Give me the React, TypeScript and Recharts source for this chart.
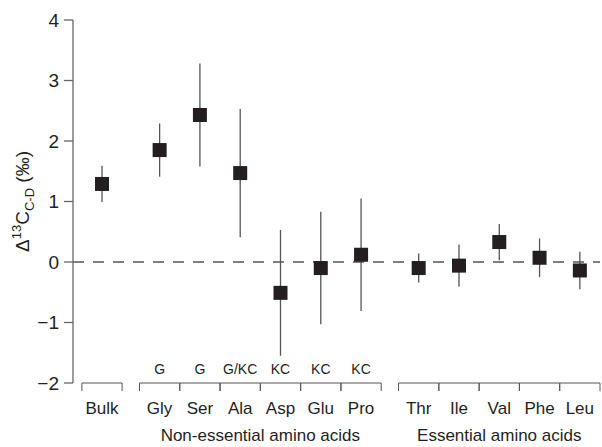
import { ScatterChart, Scatter, XAxis, YAxis, ErrorBar, ReferenceLine } from "recharts";

// Data
const categories = ["Bulk", "Gly", "Ser", "Ala", "Asp", "Glu", "Pro", "Thr", "Ile", "Val", "Phe", "Leu"];
const groupNames = ["", "Non-essential amino acids", "Essential amino acids"];
const groupSizes = [1, 6, 5];
const means = [1.29, 1.85, 2.43, 1.47, -0.51, -0.1, 0.12, -0.1, -0.06, 0.33, 0.07, -0.14];
const errors = [0.3, 0.44, 0.85, 1.06, 1.04, 0.93, 0.93, 0.24, 0.35, 0.3, 0.32, 0.31];
const sourceTags = ["", "G", "G", "G/KC", "KC", "KC", "KC", "", "", "", "", ""];
const yTicks = [-2, -1, 0, 1, 2, 3, 4];

// layout
const W = 602;
const H = 447;
const GAP = 0.43; // space between groups, in category widths
const X_DOMAIN: [number, number] = [-0.72, 12.36];
const PLOT_W = 527;
const BAND = PLOT_W / (X_DOMAIN[1] - X_DOMAIN[0]);
const FONT = "'Liberation Sans', Arial, Helvetica, sans-serif";
const INK = "#231f20";
const GREY = "#555";

// x position of each category, with a gap between groups
const positions: number[] = [];
const groupOfCat: number[] = [];
{
  let idx = 0;
  groupSizes.forEach((size, g) => {
    for (let i = 0; i < size; i++) {
      positions.push(idx + g * GAP);
      groupOfCat.push(g);
      idx++;
    }
  });
}
const groupCenters = groupSizes.map((_, g) => {
  const xs = positions.filter((_, i) => groupOfCat[i] === g);
  return (xs[0] + xs[xs.length - 1]) / 2;
});
const labelledGroups = groupNames.map((n, g) => ({ n, g })).filter((d) => d.n);

const rows = categories.map((name, i) => ({
  name,
  x: positions[i],
  y: means[i],
  err: errors[i],
}));

function CategoryTick(props: any) {
  const { x, y, index } = props;
  const h = BAND / 2;
  return (
    <g>
      <line x1={x - h} x2={x + h} y1={y} y2={y} stroke={GREY} strokeWidth={1} />
      <line x1={x - h} x2={x - h} y1={y} y2={y + 8} stroke={GREY} strokeWidth={1} />
      <line x1={x + h} x2={x + h} y1={y} y2={y + 8} stroke={GREY} strokeWidth={1} />
      {sourceTags[index] ? (
        <text x={x} y={y - 9} textAnchor="middle" fontSize={14} fontFamily={FONT} fill={INK}>
          {sourceTags[index]}
        </text>
      ) : null}
      <text x={x} y={y + 31} textAnchor="middle" fontSize={17} fontFamily={FONT} fill={INK}>
        {categories[index]}
      </text>
    </g>
  );
}

function GroupTick(props: any) {
  const { x, y, index } = props;
  return (
    <text x={x} y={y + 14} textAnchor="middle" fontSize={17} fontFamily={FONT} fill={INK}>
      {labelledGroups[index]?.n}
    </text>
  );
}

function YLabel(props: any) {
  const vb = props.viewBox || { x: 0, y: 20, width: 73, height: 363 };
  const cx = 29;
  const cy = vb.y + vb.height / 2;
  return (
    <text
      x={cx}
      y={cy}
      transform={`rotate(-90, ${cx}, ${cy})`}
      textAnchor="middle"
      fontSize={19}
      fontFamily={FONT}
      fill={INK}
    >
      Δ<tspan dy={-8} fontSize={13}>13</tspan>
      <tspan dy={8} fontSize={19}>C</tspan>
      <tspan dy={5} fontSize={13}>C-D</tspan>
      <tspan dy={-5} fontSize={19}> (‰)</tspan>
    </text>
  );
}

const Square = (props: any) => (
  <rect x={props.cx - 7} y={props.cy - 7} width={14} height={14} fill={INK} />
);

export default function App() {
  return (
    <div style={{ position: "absolute", left: 0, top: 0, background: "#fff" }}>
      <ScatterChart width={W} height={H} margin={{ top: 20, right: 2, bottom: 0, left: 0 }}>
        <XAxis
          dataKey="x"
          type="number"
          domain={X_DOMAIN}
          allowDataOverflow
          ticks={positions}
          interval={0}
          axisLine={false}
          tickLine={false}
          tickSize={0}
          tickMargin={0}
          height={44}
          tick={<CategoryTick />}
        />
        <XAxis
          xAxisId="group"
          dataKey="x"
          type="number"
          domain={X_DOMAIN}
          allowDataOverflow
          ticks={labelledGroups.map((d) => groupCenters[d.g])}
          interval={0}
          axisLine={false}
          tickLine={false}
          tickSize={0}
          tickMargin={0}
          height={20}
          tick={<GroupTick />}
        />
        <YAxis
          dataKey="y"
          type="number"
          domain={[-2, 4]}
          ticks={yTicks}
          interval={0}
          width={73}
          tickSize={9}
          tickMargin={5}
          stroke="#666"
          strokeWidth={1.3}
          tick={{ fill: INK, fontSize: 19, fontFamily: FONT }}
          tickFormatter={(v: number) => String(v).replace("-", "−")}
          label={{ content: <YLabel /> }}
        />
        <ReferenceLine y={0} stroke={GREY} strokeWidth={1.3} strokeDasharray="11 9" />
        <Scatter data={rows} dataKey="y" shape={Square} isAnimationActive={false}>
          <ErrorBar dataKey="err" direction="y" width={0} stroke={GREY} strokeWidth={1.3} isAnimationActive={false} />
        </Scatter>
      </ScatterChart>
    </div>
  );
}
